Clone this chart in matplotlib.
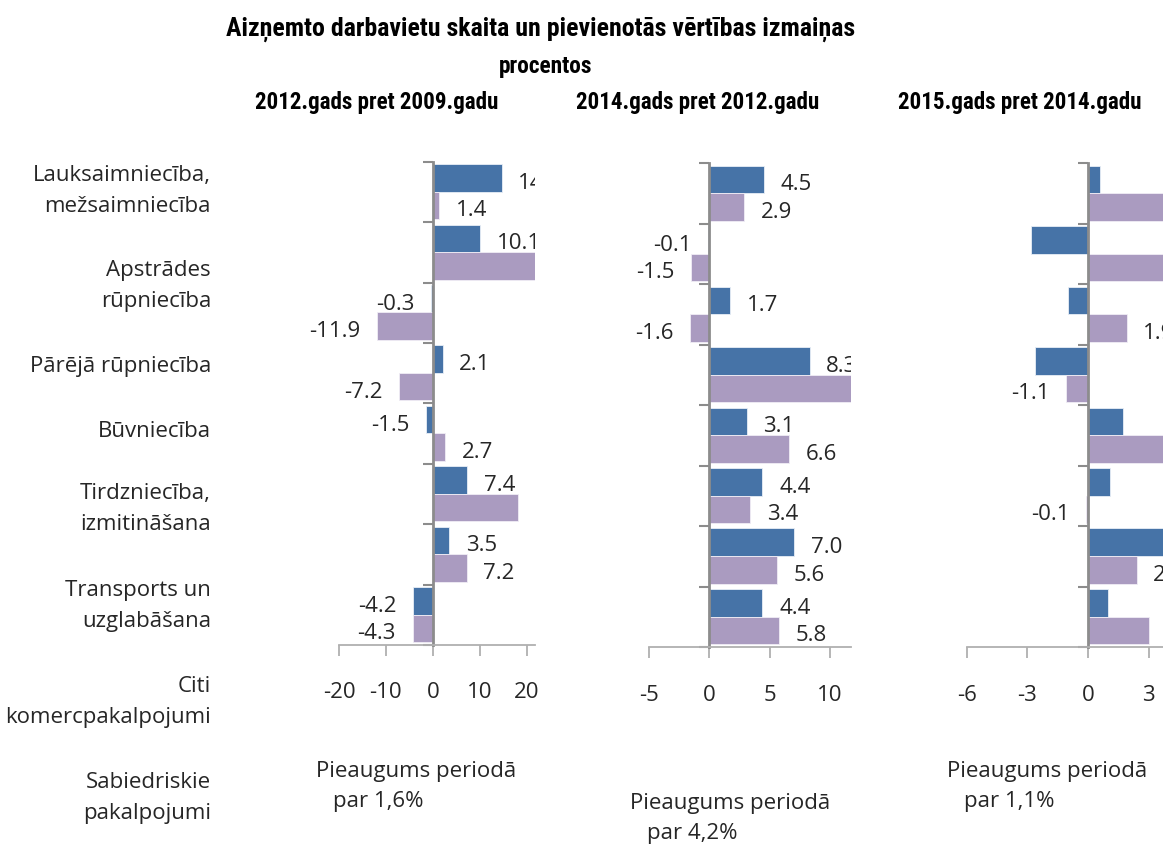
import numpy as np
import matplotlib
matplotlib.use('Agg')
import matplotlib.pyplot as plt
from matplotlib import font_manager
from matplotlib.transforms import Bbox, TransformedBbox

plt.rcParams['font.family'] = ['Open Sans', 'DejaVu Sans']
plt.rcParams['axes.unicode_minus'] = False

categories = ["Lauksaimniecība,\nmežsaimniecība", "Apstrādes\nrūpniecība",
              "Pārējā rūpniecība", "Būvniecība", "Tirdzniecība,\nizmitināšana",
              "Transports un\nuzglabāšana", "Citi\nkomercpakalpojumi",
              "Sabiedriskie\npakalpojumi"]

panel_titles = ["2012.gads pret 2009.gadu", "2014.gads pret 2012.gadu",
                "2015.gads pret 2014.gadu"]

# blue = aizņemtās darbavietas, purple = pievienotā vērtība
blue_2012 = [14.7, 10.1, -0.3, 2.1, -1.5, 7.4, 3.5, -4.2]
purple_2012 = [1.4, 23.0, -11.9, -7.2, 2.7, 18.2, 7.2, -4.3]
blue_2014 = [4.5, -0.1, 1.7, 8.3, 3.1, 4.4, 7.0, 4.4]
purple_2014 = [2.9, -1.5, -1.6, 12.5, 6.6, 3.4, 5.6, 5.8]
blue_2015 = [0.6, -2.8, -1.0, -2.6, 1.7, 1.1, 4.0, 1.0]
purple_2015 = [4.5, 4.3, 1.9, -1.1, 4.4, -0.1, 2.4, 3.0]

growth_notes = ["par 1,6%", "par 4,2%", "par 1,1%"]

x_ticks = [[-20, -10, 0, 10, 20], [-5, 0, 5, 10], [-6, -3, 0, 3]]
x_limits = [(-20, 21.8), (-5, 11.7), (-6, 3.7)]
show_blue_labels = [True, True, False]

blue_c = '#4673a7'
purple_c = '#aa9bc0'
spine_c = '#8c8c8c'
text_c = '#262626'

# narrow bold font for the titles, if one is installed
installed = {f.name for f in font_manager.fontManager.ttflist}
narrow = None
for name in ['Roboto Condensed', 'Liberation Sans Narrow', 'Open Sans Condensed',
             'DejaVu Sans Condensed']:
    if name in installed:
        narrow = name
        break
if narrow:
    title_font = [narrow, 'DejaVu Sans']
    title_sizes = (18.6, 16.8, 16.6)
else:
    title_font = ['Roboto', 'DejaVu Sans']
    title_sizes = (15, 12.5, 13.5)

fig = plt.figure(figsize=(11.63, 8.46), dpi=100)

# axes rectangles [left, bottom, width, height]
rects = [[0.2915, 0.2376, 0.1685, 0.5713],
         [0.5580, 0.2352, 0.1734, 0.5720],
         [0.8312, 0.2352, 0.1688, 0.5720]]

panels = [(blue_2012, purple_2012), (blue_2014, purple_2014), (blue_2015, purple_2015)]
n = len(categories)
pos = np.arange(n)

for k, (blue, purple) in enumerate(panels):
    ax = fig.add_axes(rects[k])
    ax.barh(pos + 0.268, blue, height=0.455, color=blue_c, edgecolor='#e8eef6', linewidth=0.6)
    ax.barh(pos + 0.723, purple, height=0.455, color=purple_c, edgecolor='#f0edf5', linewidth=0.6)
    ax.set_xlim(*x_limits[k])
    ax.set_ylim(n, 0)
    ax.set_xticks(x_ticks[k])
    ax.set_yticks(np.arange(n + 1))
    ax.set_yticklabels([])
    for s in ['top', 'right']:
        ax.spines[s].set_visible(False)
    ax.spines['left'].set_position(('data', 0))
    ax.spines['left'].set_color(spine_c)
    ax.spines['left'].set_linewidth(2)
    ax.spines['bottom'].set_color('#b0b0b0')
    ax.spines['bottom'].set_linewidth(1.3)
    ax.tick_params(axis='x', direction='out', length=8, width=1.3, color='#b0b0b0',
                   labelsize=16, labelcolor=text_c, pad=19)
    ax.tick_params(axis='y', direction='out', length=7, width=1.5, color=spine_c)

    # labels are cut at the right edge of the panel only
    clip = TransformedBbox(Bbox([[-2, -0.1], [1, 1.1]]), ax.transAxes)
    series = [(blue, 0.268, show_blue_labels[k]), (purple, 0.723, True)]
    for vals, off, show in series:
        if not show:
            continue
        for i, v in enumerate(vals):
            ha = 'left' if v >= 0 else 'right'
            dx = 12 if v >= 0 else -12
            t = ax.annotate(f"{v:.1f}", xy=(v, i + off), xytext=(dx, -4),
                            textcoords='offset points', ha=ha, va='center',
                            fontsize=16, color=text_c, annotation_clip=False)
            t.set_clip_on(True)
            t.set_clip_box(clip)

# titles
fig.text(0.465, 0.965, "Aizņemto darbavietu skaita un pievienotās vērtības izmaiņas",
         ha='center', va='center', fontsize=title_sizes[0], fontweight='bold',
         family=title_font, color='black')
fig.text(0.469, 0.921, "procentos", ha='center', va='center', fontsize=title_sizes[1],
         fontweight='bold', family=title_font, color='black')
title_x = [0.324, 0.600, 0.877]
for x, t in zip(title_x, panel_titles):
    fig.text(x, 0.879, t, ha='center', va='center', fontsize=title_sizes[2],
             fontweight='bold', family=title_font, color='black')

# category labels (left column)
cat_y = [191, 286, 366, 431, 509, 606, 702, 798]
for y, c in zip(cat_y, categories):
    fig.text(211 / 1163, 1 - y / 846, c, ha='right', va='center', fontsize=16,
             color=text_c, linespacing=1.6)

# growth notes under panels
note_pos = [(316, 771), (630, 803), (947, 771)]
for (x, y), note in zip(note_pos, growth_notes):
    fig.text(x / 1163, 1 - y / 846, "Pieaugums periodā", ha='left', va='center',
             fontsize=16, color=text_c)
    fig.text((x + 17) / 1163, 1 - (y + 30) / 846, note, ha='left', va='center',
             fontsize=16, color=text_c)

fig.savefig('out.png', dpi=100)
